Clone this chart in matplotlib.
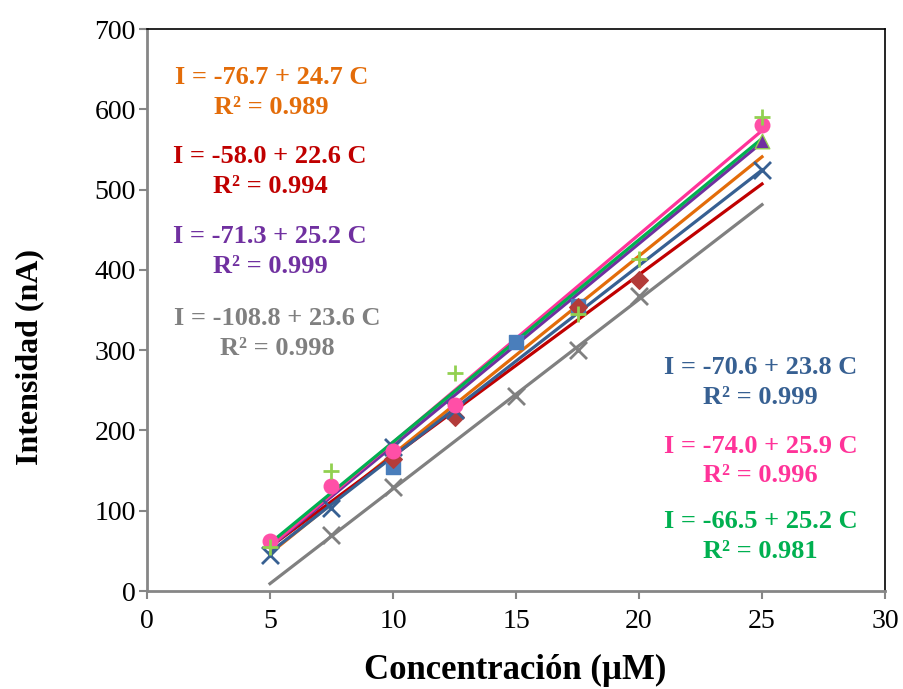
import numpy as np
import matplotlib.pyplot as plt

# trend lines: (intercept, slope, r2, colour)
fit_names = ["orange", "red", "purple", "gray", "blue", "pink", "green"]
fit_b = [-76.7, -58.0, -71.3, -108.8, -70.6, -74.0, -66.5]
fit_m = [24.7, 22.6, 25.2, 23.6, 23.8, 25.9, 25.2]
fit_r2 = ["0.989", "0.994", "0.999", "0.998", "0.999", "0.996", "0.981"]
fit_colors = ["#E36C09", "#C00000", "#7030A0", "#808080", "#376092", "#FF3399", "#00B050"]
fit_x = [5, 25]

sq_x = [10, 15, 17.5]
sq_y = [155, 310, 355]
dia_x = [10, 12.5, 17.5, 20]
dia_y = [165, 217, 354, 388]
bx_x = [5, 7.5, 10, 12.5, 25]
bx_y = [45, 103, 180, 226, 525]
pk_x = [5, 7.5, 10, 12.5, 25]
pk_y = [62, 131, 175, 232, 580]
tri_x = [25]
tri_y = [560]
pl_x = [5, 7.5, 12.5, 17.5, 20, 25]
pl_y = [55, 150, 272, 345, 413, 590]
gx_x = [7.5, 10, 15, 17.5, 20]
gx_y = [70, 130, 243, 300, 368]

plt.rcParams['font.family'] = ['Liberation Serif', 'DejaVu Serif']

fig = plt.figure(figsize=(9.04, 6.89), dpi=100)
ax = fig.add_axes([0.1626, 0.1422, 0.8164, 0.8157])

ax.scatter(sq_x, sq_y, marker='s', s=110, color='#4A7EBB', zorder=3)
ax.scatter(dia_x, dia_y, marker='D', s=80, color='#B33C3A', zorder=3)
ax.scatter(bx_x, bx_y, marker='x', s=150, color='#376092', linewidths=2, zorder=3)
ax.scatter(pk_x, pk_y, marker='o', s=110, color='#FF4FA7', zorder=3)
ax.scatter(tri_x, tri_y, marker='^', s=110, color='#7030A0', edgecolors='#92D050', zorder=3)
ax.scatter(pl_x, pl_y, marker='+', s=120, color='#92D050', linewidths=2, zorder=4)
ax.scatter(gx_x, gx_y, marker='x', s=150, color='#808080', linewidths=2, zorder=3)

for b, m, c in zip(fit_b, fit_m, fit_colors):
    xs = np.array(fit_x, dtype=float)
    ax.plot(xs, b + m * xs, color=c, lw=2.3, zorder=2)

# equation labels
eq_pos = [(5.05, 621), (5.0, 523), (5.0, 423), (5.3, 321),
          (24.95, 260), (24.95, 162), (24.95, 68)]
for (px, py), b, m, r2, c in zip(eq_pos, fit_b, fit_m, fit_r2, fit_colors):
    ax.text(px, py, f"I = {b:.1f} + {m:.1f} C\nR² = {r2}", color=c, fontsize=19,
            fontweight='bold', ha='center', va='center', linespacing=1.38,
            multialignment='center')

ax.set_xlim(0, 30)
ax.set_ylim(0, 700)
ax.set_xticks(np.arange(0, 31, 5))
ax.set_yticks(np.arange(0, 701, 100))
ax.tick_params(labelsize=20, color='#868686', length=6, width=1.5, direction='out')
ax.tick_params(axis='x', pad=7)
ax.tick_params(axis='y', pad=2)
for s in ['left', 'bottom']:
    ax.spines[s].set_color('#868686')
    ax.spines[s].set_linewidth(2)
for s in ['top', 'right']:
    ax.spines[s].set_color('black')
    ax.spines[s].set_linewidth(1.2)

ax.set_xlabel("Concentración (µM)", fontsize=25, fontweight='bold')
ax.set_ylabel("Intensidad (nA)", fontsize=23, fontweight='bold')
ax.xaxis.set_label_coords(0.499, -0.141)
ax.yaxis.set_label_coords(-0.159, 0.416)
ax.xaxis.label.set_va('center')
ax.yaxis.label.set_va('center')

fig.savefig("out.png", dpi=100)
